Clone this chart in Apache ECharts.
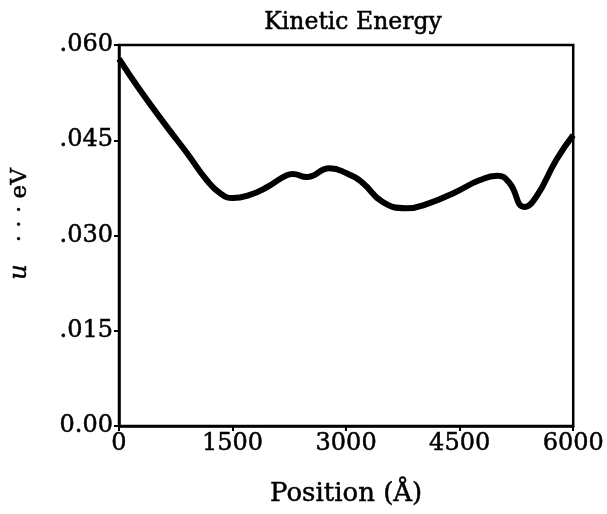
<!DOCTYPE html>
<html><head><meta charset="utf-8">
<script src="https://cdn.jsdelivr.net/npm/echarts@6/dist/echarts.min.js"></script>
<style>html,body{margin:0;padding:0;background:#fff}#c{width:607px;height:514px}</style>
</head><body><div id="c"></div>
<script>
const positions = [0, 277, 633, 897, 1160, 1332, 1503, 1727, 1952, 2215, 2295, 2479, 2782, 3007, 3218, 3481, 3798, 4101, 4457, 4760, 4998, 5156, 5354, 5512, 5776, 6000];
const energy = [0.0578, 0.0529, 0.0471, 0.0430, 0.0387, 0.0367, 0.0359, 0.0364, 0.0376, 0.0395, 0.0397, 0.0392, 0.0406, 0.0398, 0.0383, 0.0353, 0.0343, 0.0351, 0.0369, 0.0387, 0.0394, 0.0383, 0.0345, 0.0361, 0.0419, 0.0458];
const xTicks = [0, 1500, 3000, 4500, 6000];
const yTickLabels = {'0': '0.00', '0.015': '.015', '0.03': '.030', '0.045': '.045', '0.06': '.060'};
const title = 'Kinetic Energy';
const xName = 'Position (Å)';

const font = 'DejaVu Serif';
const stroke = {textBorderColor: '#000', textBorderWidth: 0.5};
const chart = echarts.init(document.getElementById('c'));
chart.setOption({
  animation: false,
  backgroundColor: '#fff',
  title: {text: title, left: 348, top: 6, textAlign: 'center',
    textStyle: Object.assign({fontFamily: font, fontWeight: 'normal', fontSize: 23.5, color: '#000'}, stroke)},
  grid: {left: 119, right: 33, top: 45, bottom: 88, show: true, borderColor: '#000', borderWidth: 2.5, backgroundColor: 'transparent'},
  xAxis: {type: 'value', min: 0, max: 6000, interval: 1500,
    name: xName, nameLocation: 'middle', nameGap: 55,
    nameTextStyle: Object.assign({fontFamily: font, fontSize: 26, color: '#000'}, stroke),
    axisLine: {show: true, lineStyle: {color: '#000', width: 2.5}},
    axisTick: {show: true, length: 5, lineStyle: {color: '#000', width: 2}},
    axisLabel: Object.assign({fontFamily: font, fontSize: 24, color: '#000', margin: 6,
      formatter: v => xTicks.includes(v) ? String(v) : ''}, stroke),
    splitLine: {show: false}},
  yAxis: {type: 'value', min: 0, max: 0.06, interval: 0.015,
    axisLine: {show: true, lineStyle: {color: '#000', width: 2.5}},
    axisTick: {show: true, length: 5, lineStyle: {color: '#000', width: 2}},
    axisLabel: Object.assign({fontFamily: font, fontSize: 24, color: '#000', margin: 6,
      formatter: v => yTickLabels[String(+v.toFixed(3))] || ''}, stroke),
    splitLine: {show: false}},
  graphic: [{type: 'text', x: 20, y: 224, rotation: Math.PI/2,
    style: {text: '{i|u}   · · · eV', align: 'center', verticalAlign: 'middle',
      rich: {i: {fontFamily: font, fontStyle: 'italic', fontSize: 24, fill: '#000'}},
      font: '23px "DejaVu Serif"', fill: '#000', stroke: '#000', lineWidth: 0.5}}],
  series: [{type: 'line', data: positions.map((p, i) => [p, energy[i]]), smooth: 0.5, showSymbol: false,
    lineStyle: {color: '#000', width: 6}}]
});
</script></body></html>
